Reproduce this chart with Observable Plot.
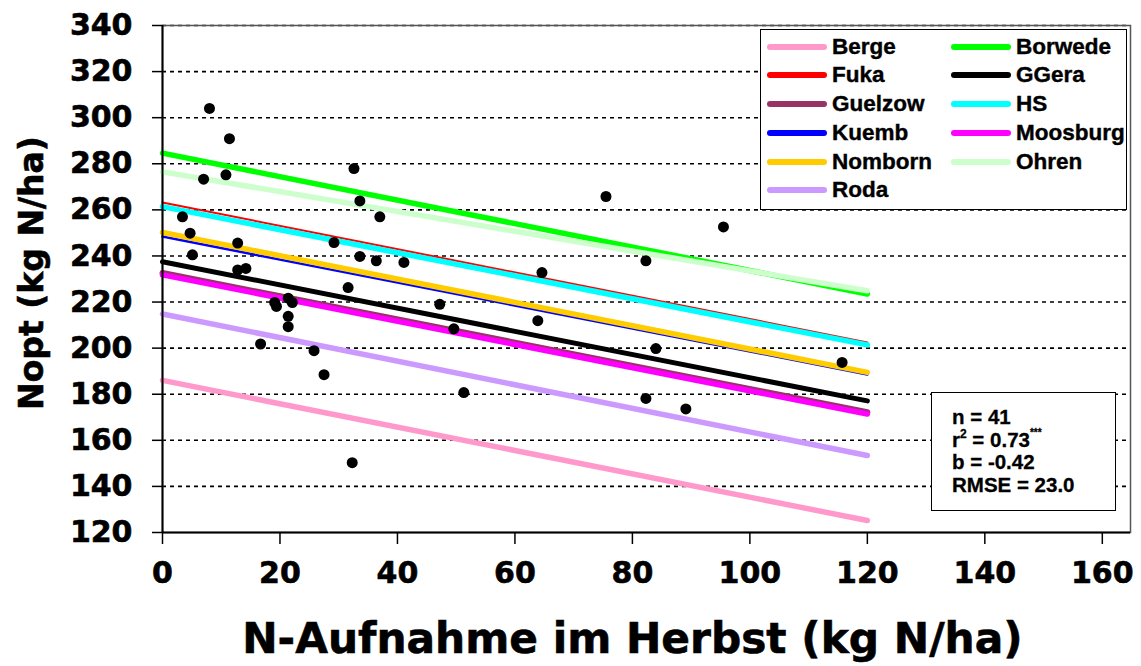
<!DOCTYPE html>
<html>
<head>
<meta charset="utf-8">
<script src="https://cdn.jsdelivr.net/npm/d3@7"></script>
<script src="https://cdn.jsdelivr.net/npm/@observablehq/plot@0.6"></script>
<style>
  body { margin: 0; background: #fff; }
  #wrap { position: relative; width: 1141px; height: 666px; overflow: hidden; }
  #wrap svg text { stroke: #000; stroke-width: 0.6px; paint-order: stroke; }
  #legend { position: absolute; left: 760px; top: 29px; width: 367px; height: 181px; border: 1.5px solid #000; box-sizing: border-box; background: #fff;
            font-family: "Liberation Sans", Arial, sans-serif; font-weight: bold; font-size: 22.5px; color: #000; -webkit-text-stroke: 0.4px #000; }
  .item { position: absolute; height: 26px; display: flex; align-items: center; white-space: nowrap; }
  .sw { width: 60px; height: 6px; border-radius: 3px; margin-right: 5px; }
  #stats { position: absolute; left: 931px; top: 392px; width: 185px; height: 119px; border: 1.5px solid #000; box-sizing: border-box; background: #fff;
           font-family: "Liberation Sans", Arial, sans-serif; font-weight: bold; font-size: 20.5px; line-height: 22.5px; color: #000;
           padding: 13px 0 0 20px; -webkit-text-stroke: 0.3px #000; }
  #stats sup { font-size: 12px; line-height: 0; position: relative; top: -1px; }
  #stats sup.s { font-size: 10px; top: -3px; }
</style>
</head>
<body>
<div id="wrap"></div>
<script>
// ---- data ----
const sites = ["Berge", "Borwede", "Fuka", "GGera", "Guelzow", "HS", "Kuemb", "Moosburg", "Nomborn", "Ohren", "Roda"];
const lineExtent = [0, 120];                    // N uptake range covered by the regression lines
const noptAtStart = [186.0, 284.6, 263.2, 237.5, 232.6, 261.4, 248.4, 231.8, 250.2, 276.5, 214.8];
const noptAtEnd   = [125.2, 223.5, 202.5, 177.1, 172.2, 201.4, 188.6, 171.4, 189.5, 224.9, 153.4];

const nUptake = [8.0, 11.4, 7.0, 10.8, 3.4, 4.7, 5.1, 12.8, 12.8, 14.2, 32.6, 33.6, 37.0, 29.2, 33.6, 36.4, 41.1, 31.6, 19.1, 19.4,
                 21.4, 22.1, 21.4, 21.4, 16.7, 25.8, 27.5, 32.3, 47.2, 49.6, 51.3, 75.5, 95.5, 82.3, 64.6, 63.9, 84.0, 115.7, 82.3, 89.1];
const nOpt    = [304.0, 290.9, 273.3, 275.2, 257.0, 249.9, 240.5, 245.6, 233.9, 234.6, 277.9, 263.9, 257.0, 245.8, 239.8, 237.9, 237.2, 226.3, 219.8, 218.1,
                 221.7, 219.8, 213.8, 209.3, 201.8, 198.9, 188.5, 150.3, 219.0, 208.4, 180.7, 265.8, 252.6, 237.9, 232.8, 211.9, 199.8, 193.8, 178.2, 173.6];

const xTicks = [0, 20, 40, 60, 80, 100, 120, 140, 160];
const yTicks = [120, 140, 160, 180, 200, 220, 240, 260, 280, 300, 320, 340];
const xTitle = "N-Aufnahme im Herbst (kg N/ha)";
const yTitle = "Nopt (kg N/ha)";
const statsLines = ["n = 41", "r2 = 0.73***", "b = -0.42", "RMSE = 23.0"];

// ---- styles ----
const siteColors = ["#FF99CC", "#00FF00", "#FF0000", "#000000", "#993366", "#00FFFF", "#0000FF", "#FF00FF", "#FFCC00", "#CCFFCC", "#CC99FF"];
const siteWidths = [5.5, 5.5, 2, 5, 6, 5.5, 2.5, 5.5, 5.5, 5.5, 5.5];

// ---- build ----
const points = nUptake.map((x, i) => ({x, y: nOpt[i]}));
const lineMarks = sites.map((s, i) => {
  const seg = [{x: lineExtent[0], y: noptAtStart[i]}, {x: lineExtent[1], y: noptAtEnd[i]}];
  return Plot.line(seg, {x: "x", y: "y", stroke: siteColors[i], strokeWidth: siteWidths[i], strokeLinecap: "round"});
});

const chart = Plot.plot({
  width: 1141, height: 666,
  marginLeft: 162, marginRight: 11, marginTop: 25, marginBottom: 134,
  x: {domain: [0, 164.8]},
  y: {domain: [120, 340]},
  style: {fontFamily: "'DejaVu Sans', sans-serif", fontWeight: "bold", fontSize: "30px", color: "#000", background: "#fff", overflow: "visible"},
  marks: [
    Plot.gridY(yTicks.filter(v => v > yTicks[0]), {stroke: "#000", strokeOpacity: 1, strokeWidth: 1.6, strokeDasharray: "4,4"}),
    Plot.frame({stroke: "#555", strokeWidth: 1.5}),
    ...lineMarks,
    Plot.dot(points, {x: "x", y: "y", r: 5.5, fill: "#000"}),
    Plot.ruleX([0], {stroke: "#000", strokeWidth: 2}),
    Plot.ruleY([yTicks[0]], {stroke: "#000", strokeWidth: 2}),
    Plot.axisY(yTicks, {tickSize: 10, tickPadding: 20, fontSize: 30, label: null, strokeWidth: 1.5}),
    Plot.axisX(xTicks, {tickSize: 12, tickPadding: 17, fontSize: 30, label: null, strokeWidth: 1.5}),
    Plot.text([xTitle], {x: () => (xTicks[0] + xTicks[xTicks.length - 1]) / 2, frameAnchor: "bottom", dy: 120, fontSize: 42.3, textAnchor: "middle", text: d => d}),
    Plot.text([yTitle], {frameAnchor: "left", dx: -130, dy: -6, rotate: -90, fontSize: 33, textAnchor: "middle", text: d => d})
  ]
});

const wrap = document.getElementById("wrap");
wrap.appendChild(chart);

// legend (inside plot area, top right)
const legend = document.createElement("div");
legend.id = "legend";
sites.forEach((s, i) => {
  const row = Math.floor(i / 2), col = i % 2;
  const it = document.createElement("div");
  it.className = "item";
  it.style.left = (col === 0 ? 6 : 190) + "px";
  it.style.top = (16.7 + row * 28.7 - 13) + "px";
  const sw = document.createElement("div");
  sw.className = "sw";
  sw.style.background = siteColors[i];
  const lab = document.createElement("span");
  lab.textContent = s;
  it.appendChild(sw); it.appendChild(lab);
  legend.appendChild(it);
});
wrap.appendChild(legend);

// stats box
const stats = document.createElement("div");
stats.id = "stats";
statsLines.forEach(t => {
  const d = document.createElement("div");
  if (t.startsWith("r2")) {
    const m = t.match(/^r2( = [\d.]+)(\*+)$/);
    d.innerHTML = "r<sup>2</sup>" + m[1] + "<sup class='s'>" + m[2] + "</sup>";
  } else d.textContent = t;
  stats.appendChild(d);
});
wrap.appendChild(stats);
</script>
</body>
</html>
